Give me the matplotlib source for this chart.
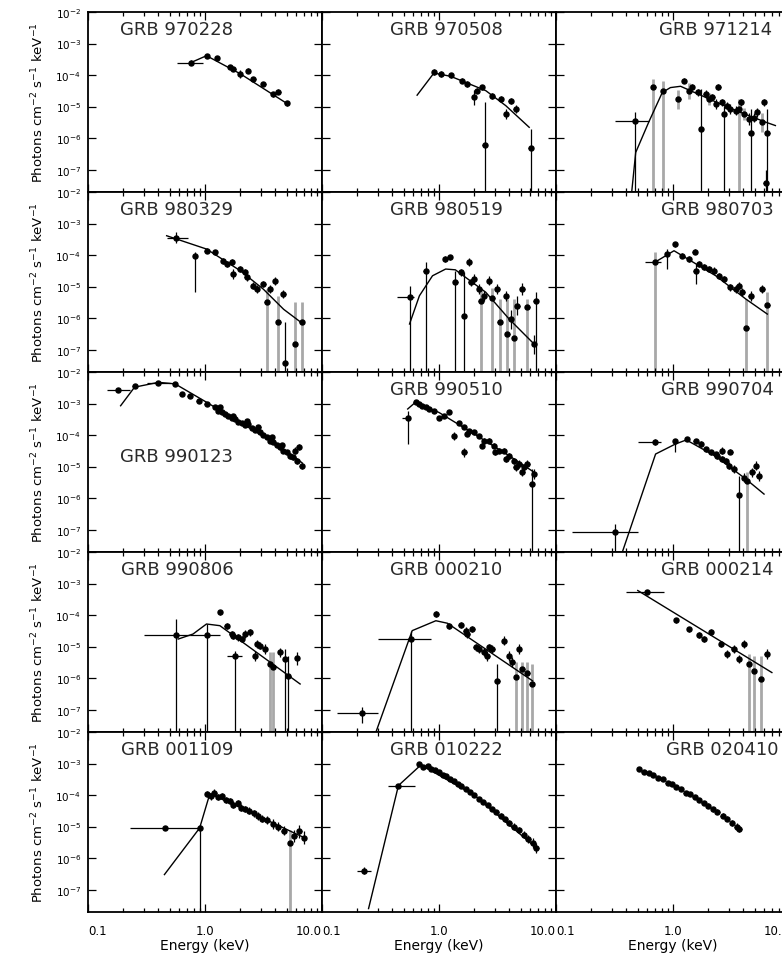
import numpy as np
import matplotlib
matplotlib.use("Agg")
import matplotlib.pyplot as plt
from matplotlib.ticker import LogLocator, NullFormatter, NullLocator

FLOOR = 1e-9  # lower end for error bars that run off the bottom of a panel

# ---------------- GRB 970228 ----------------
e_970228 = [0.755, 1.03, 1.26, 1.64, 1.75, 1.99, 2.34, 2.59, 3.15, 3.84, 4.24, 4.99]
f_970228 = [2.5e-4, 4.1e-4, 3.4e-4, 1.75e-4, 1.55e-4, 1.08e-4, 1.37e-4, 7.5e-5, 5.2e-5, 2.5e-5, 2.95e-5, 1.26e-5]
err_970228 = [0.08, 0.05, 0.05, 0.06, 0.06, 0.12, 0.08, 0.07, 0.07, 0.08, 0.08, 0.08]
lim_970228 = {}
bin_970228 = {0: (0.58, 0.96)}
gray_970228 = []
me_970228 = [0.76, 1.03, 2.0, 5.2]
mf_970228 = [2.5e-4, 4.1e-4, 1.1e-4, 1.15e-5]

# ---------------- GRB 970508 ----------------
e_970508 = [0.905, 1.03, 1.26, 1.58, 1.75, 1.99, 2.12, 2.34, 2.86, 3.37, 3.72, 4.1, 4.52, 2.45, 6.08]
f_970508 = [1.22e-4, 1.08e-4, 1.0e-4, 6.6e-5, 5.2e-5, 1.95e-5, 3.2e-5, 4.1e-5, 2.2e-5, 1.73e-5, 5.8e-6, 1.53e-5, 8.3e-6, 6.1e-7, 5.0e-7]
err_970508 = [0.1, 0.08, 0.08, 0.08, 0.08, 0.25, 0.08, 0.08, 0.1, 0.1, 0.15, 0.1, 0.12, 0, 0]
lim_970508 = {13: (FLOOR, 1.35e-5), 14: (FLOOR, 1.94e-6)}
bin_970508 = {}
gray_970508 = []
me_970508 = [0.65, 0.905, 1.26, 2.51, 3.72, 5.9]
mf_970508 = [2.3e-5, 1.16e-4, 9.1e-5, 3.2e-5, 1.07e-5, 2.2e-6]

# ---------------- GRB 971214 ----------------
e_971214 = [0.47, 0.68, 0.82, 1.11, 1.24, 1.37, 1.46, 1.62, 1.73, 1.9, 2.03, 2.17, 2.44, 2.32, 2.63,
            2.73, 2.91, 3.1, 3.43, 3.66, 3.78, 4.05, 4.47, 4.61, 4.92, 5.25, 5.8, 6.0, 6.4, 6.2]
f_971214 = [3.4e-6, 4.1e-5, 3.2e-5, 1.73e-5, 6.6e-5, 3.2e-5, 4.1e-5, 2.8e-5, 1.94e-6, 2.5e-5, 1.73e-5,
            1.95e-5, 4.1e-5, 1.2e-5, 1.35e-5, 5.8e-6, 1.07e-5, 8.3e-6, 7.4e-6, 8.3e-6, 1.35e-5, 5.8e-6,
            4.0e-6, 1.5e-6, 4.5e-6, 6.6e-6, 3.2e-6, 1.35e-5, 1.5e-6, 3.9e-8]
err_971214 = [0, 0, 0, 0.3, 0.08, 0.25, 0.1, 0.1, 0, 0.12, 0.2, 0.1, 0.1, 0.15, 0.12,
              0, 0.12, 0.15, 0.15, 0, 0.12, 0.2, 0.2, 0, 0.15, 0.15, 0.3, 0.12, 0, 0.4]
lim_971214 = {0: (FLOOR, 6.6e-6), 1: (FLOOR, 7.5e-5), 2: (FLOOR, 6.6e-5), 8: (FLOOR, 3.6e-5),
              15: (FLOOR, 1.07e-5), 19: (FLOOR, 1.73e-5), 23: (FLOOR, 8.3e-6), 28: (FLOOR, 8.3e-6)}
bin_971214 = {0: (0.32, 0.62)}
gray_971214 = [1, 2, 3, 5, 10, 19, 21, 26]
me_971214 = [0.444, 0.48, 0.62, 0.81, 0.95, 1.16, 2.0, 3.2, 6.2, 7.5]
mf_971214 = [2e-8, 3.5e-7, 3.2e-6, 2.8e-5, 4.0e-5, 4.4e-5, 1.8e-5, 8.3e-6, 3.2e-6, 2.5e-6]

# ---------------- GRB 980329 ----------------
e_980329 = [0.57, 0.82, 1.03, 1.22, 1.43, 1.53, 1.69, 1.75, 1.99, 2.2, 2.27, 2.59, 2.76, 3.15, 3.37,
            3.98, 4.24, 4.68, 4.83, 5.9, 6.7, 3.6]
f_980329 = [3.6e-4, 9.5e-5, 1.37e-4, 1.22e-4, 6.6e-5, 5.2e-5, 5.9e-5, 2.5e-5, 3.6e-5, 2.8e-5, 1.95e-5,
            1.07e-5, 8.3e-6, 1.2e-5, 3.2e-6, 1.53e-5, 7.3e-7, 5.8e-6, 3.9e-8, 1.5e-7, 7.3e-7, 8.3e-6]
err_980329 = [0.17, 0, 0.08, 0.08, 0.1, 0.1, 0.1, 0.15, 0.1, 0.1, 0.1, 0.12, 0.12, 0.1, 0,
              0.12, 0, 0.12, 0, 0, 0, 0.12]
lim_980329 = {1: (6.6e-6, 1.22e-4), 14: (FLOOR, 8.3e-6), 16: (FLOOR, 5.1e-6), 18: (FLOOR, 7.3e-7),
              19: (FLOOR, 3.2e-6), 20: (FLOOR, 3.2e-6)}
bin_980329 = {0: (0.47, 0.72)}
gray_980329 = [14, 16, 19, 20]
me_980329 = [0.47, 1.03, 2.0, 3.15, 4.7, 6.9]
mf_980329 = [4.1e-4, 1.55e-4, 3.2e-5, 8.3e-6, 1.9e-6, 6.5e-7]

# ---------------- GRB 980519 ----------------
e_980519 = [0.57, 0.77, 1.12, 1.23, 1.38, 1.53, 1.64, 1.8, 1.86, 2.0, 2.2, 2.27, 2.43, 2.67, 2.86,
            3.16, 3.3, 3.72, 3.84, 4.1, 4.37, 4.68, 5.15, 5.7, 6.5, 6.7]
f_980519 = [4.8e-6, 3.2e-5, 7.5e-5, 8.5e-5, 1.35e-5, 2.8e-5, 1.18e-6, 5.9e-5, 1.35e-5, 1.73e-5, 8.3e-6,
            3.5e-6, 5.1e-6, 1.53e-5, 4.5e-6, 8.3e-6, 7.3e-7, 5.1e-6, 3.1e-7, 9.3e-7, 2.4e-7, 2.5e-6,
            8.3e-6, 2.2e-6, 1.5e-7, 3.5e-6]
err_980519 = [0, 0, 0.1, 0.08, 0, 0.12, 0, 0.12, 0.12, 0.15, 0.15, 0, 0.15, 0.15, 0,
              0.15, 0, 0.15, 0, 0.3, 0, 0.3, 0.2, 0, 0.3, 0]
lim_980519 = {0: (FLOOR, 1.07e-5), 1: (FLOOR, 6.1e-5), 4: (FLOOR, 3.2e-5), 6: (FLOOR, 2.8e-5),
              11: (FLOOR, 8.3e-6), 14: (FLOOR, 9e-6), 16: (FLOOR, 4e-6), 18: (FLOOR, 4e-6),
              20: (FLOOR, 4e-6), 23: (FLOOR, 4e-6), 25: (FLOOR, 6.6e-6)}
bin_980519 = {0: (0.44, 0.61)}
gray_980519 = [11, 14, 16, 18, 20, 23]
me_980519 = [0.56, 0.68, 0.88, 1.14, 1.38, 2.51, 3.98, 6.5]
mf_980519 = [6.5e-7, 5.1e-6, 2.2e-5, 3.6e-5, 3.4e-5, 6.6e-6, 9.3e-7, 1.5e-7]

# ---------------- GRB 980703 ----------------
e_980703 = [0.70, 0.89, 1.04, 1.2, 1.37, 1.53, 1.56, 1.67, 1.84, 2.03, 2.24, 2.47, 2.73, 3.1, 3.43,
            3.66, 3.91, 4.24, 4.6, 5.8, 6.4]
f_980703 = [5.9e-5, 1.08e-4, 2.2e-4, 9.5e-5, 7.5e-5, 1.27e-4, 3.2e-5, 5.2e-5, 4.1e-5, 3.6e-5, 3.2e-5,
            2.2e-5, 1.73e-5, 9.4e-6, 8.3e-6, 1.07e-5, 6.6e-6, 4.7e-7, 5.1e-6, 8.3e-6, 2.6e-6]
err_980703 = [0, 0, 0.08, 0.08, 0.1, 0.08, 0, 0.1, 0.1, 0.1, 0.1, 0.1, 0.1, 0.12, 0.12,
              0.12, 0.12, 0, 0.15, 0.12, 0]
lim_980703 = {0: (FLOOR, 1.22e-4), 1: (3.6e-5, 1.5e-4), 6: (1.2e-5, 5.2e-5), 17: (FLOOR, 4e-6),
              20: (FLOOR, 6.6e-6)}
bin_980703 = {0: (0.58, 0.79)}
gray_980703 = [0, 17, 20]
me_980703 = [0.70, 1.02, 2.32, 4.2, 6.4]
mf_980703 = [5.9e-5, 1.37e-4, 2.2e-5, 4e-6, 1.34e-6]

# ---------------- GRB 990123 ----------------
e_990123 = [0.18, 0.25, 0.40, 0.555, 0.63, 0.74, 0.88, 1.03, 1.22, 1.3, 1.34, 1.39, 1.48, 1.58, 1.69,
            1.75, 1.8, 1.93, 2.06, 2.2, 2.27, 2.34, 2.51, 2.67, 2.86, 2.95, 3.15, 3.37, 3.6, 3.72,
            3.84, 4.1, 4.37, 4.52, 4.68, 4.99, 5.3, 5.7, 5.9, 6.1, 6.3, 6.7]
f_990123 = [2.6e-3, 3.7e-3, 4.5e-3, 4.2e-3, 2.0e-3, 1.78e-3, 1.23e-3, 9.6e-4, 7.6e-4, 5.9e-4, 7.6e-4,
            5.2e-4, 4.6e-4, 4.1e-4, 3.4e-4, 4.1e-4, 3.2e-4, 2.6e-4, 2.5e-4, 2.1e-4, 2.8e-4, 2.2e-4,
            1.63e-4, 1.48e-4, 1.75e-4, 1.22e-4, 1.0e-4, 8.5e-5, 6.6e-5, 8.5e-5, 5.9e-5, 4.8e-5,
            4.1e-5, 4.8e-5, 3.2e-5, 2.8e-5, 2.2e-5, 1.95e-5, 3.2e-5, 1.53e-5, 4.1e-5, 1.07e-5]
err_990123 = [0.05, 0.04, 0.04, 0.04, 0.05, 0.05, 0.05, 0.05, 0.05, 0.05, 0.05, 0.05, 0.05, 0.05, 0.05,
              0.05, 0.05, 0.05, 0.05, 0.06, 0.06, 0.06, 0.06, 0.06, 0.06, 0.06, 0.06, 0.07, 0.07, 0.07,
              0.07, 0.07, 0.08, 0.08, 0.08, 0.08, 0.09, 0.09, 0.1, 0.1, 0.1, 0.12]
lim_990123 = {}
bin_990123 = {0: (0.145, 0.23), 2: (0.32, 0.50)}
gray_990123 = []
me_990123 = [0.19, 0.25, 0.40, 0.555, 1.03, 2.0, 3.84, 6.7]
mf_990123 = [8.5e-4, 3.3e-3, 4.7e-3, 4.2e-3, 1.1e-3, 2.5e-4, 5.9e-5, 1.35e-5]

# ---------------- GRB 990510 ----------------
e_990510 = [0.54, 0.63, 0.675, 0.72, 0.77, 0.82, 0.905, 1.0, 1.1, 1.22, 1.34, 1.48, 1.64, 1.65, 1.75,
            1.8, 2.0, 2.2, 2.34, 2.43, 2.67, 2.95, 3.04, 3.26, 3.6, 3.72, 3.98, 4.37, 4.52, 4.83,
            5.15, 5.3, 5.7, 6.5, 6.2]
f_990510 = [3.6e-4, 1.1e-3, 9.6e-4, 8.5e-4, 7.6e-4, 6.7e-4, 5.9e-4, 3.6e-4, 4.1e-4, 5.2e-4, 9.5e-5,
            2.5e-4, 1.75e-4, 2.8e-5, 1.08e-4, 1.37e-4, 1.22e-4, 9.5e-5, 4.6e-5, 6.6e-5, 6.6e-5,
            4.6e-5, 2.8e-5, 3.2e-5, 3.2e-5, 1.73e-5, 2.2e-5, 1.53e-5, 9.4e-6, 1.2e-5, 6.6e-6,
            9.4e-6, 1.2e-5, 5.8e-6, 2.8e-6]
err_990510 = [0, 0.05, 0.05, 0.05, 0.05, 0.05, 0.05, 0.06, 0.06, 0.06, 0.12, 0.06, 0.06, 0.15, 0.07,
              0.07, 0.07, 0.07, 0.08, 0.08, 0.08, 0.08, 0.09, 0.09, 0.09, 0.1, 0.1, 0.1, 0.12, 0.12,
              0.12, 0.12, 0.12, 0.15, 0]
lim_990510 = {0: (5.2e-5, 5.9e-4), 34: (FLOOR, 8.3e-6)}
bin_990510 = {0: (0.485, 0.57)}
gray_990510 = []
me_990510 = [0.54, 0.63, 1.0, 2.0, 3.98, 6.5]
mf_990510 = [6.7e-4, 1.1e-3, 5.2e-4, 1.08e-4, 2.2e-5, 6.6e-6]

# ---------------- GRB 990704 ----------------
e_990704 = [0.32, 0.70, 1.04, 1.32, 1.56, 1.73, 1.9, 2.1, 2.32, 2.63, 3.1, 2.63, 3.0, 3.3, 3.66,
            4.05, 4.3, 4.76, 5.1, 5.4, 2.4, 2.82]
f_990704 = [8.7e-8, 5.9e-5, 6.6e-5, 7.5e-5, 6.6e-5, 5.2e-5, 3.6e-5, 2.8e-5, 2.5e-5, 3.2e-5, 3.0e-5,
            1.73e-5, 1.07e-5, 8.3e-6, 1.26e-6, 4.5e-6, 3.5e-6, 6.6e-6, 1.07e-5, 5.1e-6, 2.1e-5, 1.53e-5]
err_990704 = [0, 0.1, 0, 0.06, 0.06, 0.08, 0.08, 0.08, 0.08, 0.1, 0.08, 0.1, 0.1, 0.12, 0,
              0.15, 0, 0.15, 0.15, 0.15, 0.08, 0.1]
lim_990704 = {0: (FLOOR, 1.5e-7), 2: (2.8e-5, 7.5e-5), 14: (FLOOR, 5.1e-6), 16: (FLOOR, 6.6e-6)}
bin_990704 = {0: (0.138, 0.50), 1: (0.50, 0.79)}
gray_990704 = [16]
me_990704 = [0.37, 0.71, 1.05, 1.3, 2.32, 4.2, 6.0]
mf_990704 = [2e-8, 2.5e-5, 5.2e-5, 7e-5, 2.1e-5, 4e-6, 1.34e-6]

# ---------------- GRB 990806 ----------------
e_990806 = [0.57, 1.03, 1.34, 1.53, 1.69, 1.8, 1.93, 2.2, 2.43, 2.77, 2.67, 3.26, 3.6, 3.84, 4.37,
            4.83, 5.15, 6.1, 1.75, 2.06, 2.95]
f_990806 = [2.3e-5, 2.3e-5, 1.22e-4, 4.6e-5, 2.5e-5, 5.1e-6, 1.95e-5, 2.5e-5, 2.8e-5, 1.2e-5, 5.1e-6,
            8.3e-6, 2.8e-6, 2.2e-6, 6.6e-6, 4e-6, 1.18e-6, 4.2e-6, 2.2e-5, 1.73e-5, 1.07e-5]
err_990806 = [0, 0, 0.08, 0.1, 0.1, 0, 0.1, 0.12, 0.12, 0.12, 0.15, 0.15, 0, 0, 0.15,
              0, 0, 0.2, 0.1, 0.1, 0.12]
lim_990806 = {0: (FLOOR, 7.5e-5), 1: (FLOOR, 5.2e-5), 5: (FLOOR, 7.4e-6), 12: (FLOOR, 6.6e-6),
              13: (FLOOR, 6.6e-6), 15: (FLOOR, 8.3e-6), 16: (FLOOR, 5.1e-6)}
bin_990806 = {0: (0.30, 0.74), 1: (0.74, 1.34), 5: (1.53, 2.06)}
gray_990806 = [12, 13]
me_990806 = [0.59, 0.79, 1.03, 1.34, 6.5]
mf_990806 = [1.73e-5, 2.5e-5, 5.2e-5, 4.6e-5, 6.5e-7]

# ---------------- GRB 000210 ----------------
e_000210 = [0.22, 0.58, 0.95, 1.22, 1.53, 1.69, 1.93, 2.06, 2.2, 2.43, 2.67, 2.86, 3.16, 3.6, 3.98,
            4.24, 4.57, 4.83, 5.15, 5.7, 6.2, 1.75, 2.59]
f_000210 = [8.1e-8, 1.73e-5, 1.08e-4, 4.6e-5, 4.8e-5, 3.2e-5, 3.6e-5, 9.4e-6, 8.3e-6, 6.6e-6, 9.4e-6,
            8.3e-6, 8.2e-7, 1.53e-5, 5.1e-6, 3.2e-6, 1.05e-6, 8.3e-6, 1.94e-6, 1.5e-6, 6.5e-7,
            2.5e-5, 5.1e-6]
err_000210 = [0, 0, 0.08, 0.1, 0.1, 0.1, 0.1, 0.12, 0.12, 0.12, 0.12, 0.12, 0, 0.15, 0.15,
              0.15, 0, 0.15, 0, 0, 0, 0.12, 0.15]
lim_000210 = {0: (3.9e-8, 1.17e-7), 1: (FLOOR, 3.2e-5), 12: (FLOOR, 2.8e-6), 16: (FLOOR, 3.2e-6),
              18: (FLOOR, 3.2e-6), 19: (FLOOR, 3.2e-6), 20: (FLOOR, 2.8e-6)}
bin_000210 = {0: (0.135, 0.30), 1: (0.30, 0.85)}
gray_000210 = [16, 18, 19, 20]
me_000210 = [0.29, 0.59, 0.94, 1.18, 6.3]
mf_000210 = [2e-8, 3.2e-5, 6.6e-5, 5.5e-5, 8.2e-7]

# ---------------- GRB 000214 ----------------
e_000214 = [0.60, 1.06, 1.37, 1.67, 2.11, 1.84, 2.57, 3.3, 4.05, 4.47, 4.9, 5.6, 6.3, 2.9, 3.66]
f_000214 = [5.4e-4, 6.9e-5, 3.6e-5, 2.3e-5, 2.9e-5, 1.73e-5, 1.2e-5, 8.3e-6, 1.2e-5, 2.8e-6, 1.7e-6,
            9.3e-7, 5.8e-6, 5.8e-6, 4e-6]
err_000214 = [0.05, 0.08, 0.08, 0.1, 0.1, 0.1, 0.1, 0.12, 0.12, 0, 0, 0, 0.15, 0.12, 0.12]
lim_000214 = {9: (FLOOR, 6e-6), 10: (FLOOR, 5e-6), 11: (FLOOR, 5e-6)}
bin_000214 = {0: (0.40, 0.84)}
gray_000214 = [9, 10, 11]
me_000214 = [0.5, 7.0]
mf_000214 = [6e-4, 1.5e-6]

# ---------------- GRB 001109 ----------------
e_001109 = [0.455, 0.9, 1.05, 1.12, 1.2, 1.3, 1.4, 1.5, 1.62, 1.75, 1.9, 2.05, 2.2, 2.4, 2.6,
            2.85, 3.1, 3.4, 3.8, 4.2, 4.7, 5.3, 5.8, 6.4, 7.0]
f_001109 = [9.0e-6, 9.0e-6, 1.1e-4, 9.0e-5, 1.2e-4, 8.5e-5, 9.5e-5, 7.0e-5, 6.5e-5, 5.0e-5, 5.5e-5,
            4.0e-5, 3.6e-5, 3.2e-5, 2.6e-5, 2.2e-5, 1.8e-5, 1.6e-5, 1.2e-5, 1.0e-5, 7.5e-6, 3.0e-6,
            5.0e-6, 7.0e-6, 4.5e-6]
err_001109 = [0.06, 0, 0.1, 0.1, 0.1, 0.1, 0.1, 0.1, 0.1, 0.1, 0.1, 0.1, 0.1, 0.12, 0.12,
              0.12, 0.12, 0.12, 0.15, 0.15, 0.15, 0, 0.2, 0.2, 0.2]
lim_001109 = {1: (FLOOR, 1.1e-5), 21: (FLOOR, 8e-6)}
bin_001109 = {0: (0.23, 0.9)}
gray_001109 = [21]
me_001109 = [0.45, 0.9, 1.1, 2.0, 7.0]
mf_001109 = [3.0e-7, 9.0e-6, 1.1e-4, 4.0e-5, 4.5e-6]

# ---------------- GRB 010222 ----------------
e_010222 = [0.23, 0.45, 0.68, 0.73, 0.8, 0.86, 0.92, 1.0, 1.08, 1.15, 1.25, 1.35, 1.45, 1.55, 1.7,
            1.85, 2.0, 2.2, 2.4, 2.6, 2.85, 3.1, 3.4, 3.7, 4.0, 4.4, 4.8, 5.3, 5.8, 6.3, 6.8]
f_010222 = [4.0e-7, 2.0e-4, 9.5e-4, 8.0e-4, 8.4e-4, 6.8e-4, 6.2e-4, 5.3e-4, 4.4e-4, 4.0e-4, 3.2e-4,
            2.8e-4, 2.3e-4, 2.0e-4, 1.55e-4, 1.25e-4, 1.0e-4, 7.6e-5, 6.2e-5, 4.8e-5, 3.6e-5, 2.9e-5,
            2.2e-5, 1.7e-5, 1.3e-5, 1.0e-5, 7.6e-6, 5.6e-6, 4.1e-6, 3.0e-6, 2.1e-6]
err_010222 = [0.1, 0.06, 0.05, 0.05, 0.05, 0.05, 0.05, 0.05, 0.05, 0.05, 0.05, 0.05, 0.05, 0.05, 0.05,
              0.05, 0.06, 0.06, 0.06, 0.06, 0.07, 0.07, 0.08, 0.08, 0.09, 0.1, 0.1, 0.12, 0.12, 0.15, 0.15]
lim_010222 = {}
bin_010222 = {0: (0.2, 0.26), 1: (0.37, 0.62)}
gray_010222 = []
me_010222 = [0.25, 0.45, 0.7, 2.0, 7.0]
mf_010222 = [2.5e-8, 2.0e-4, 9.0e-4, 1.0e-4, 1.9e-6]

# ---------------- GRB 020410 ----------------
e_020410 = [0.51, 0.56, 0.62, 0.68, 0.75, 0.82, 0.9, 0.98, 1.07, 1.17, 1.28, 1.4, 1.53, 1.67, 1.83,
            2.0, 2.2, 2.4, 2.65, 2.9, 3.2, 3.5, 3.7]
f_020410 = [6.7e-4, 5.5e-4, 5.0e-4, 4.2e-4, 3.5e-4, 3.2e-4, 2.5e-4, 2.2e-4, 1.8e-4, 1.5e-4, 1.2e-4,
            1.05e-4, 8.5e-5, 7.0e-5, 5.5e-5, 4.6e-5, 3.6e-5, 3.0e-5, 2.2e-5, 1.8e-5, 1.3e-5, 1.0e-5, 8.3e-6]
err_020410 = [0.06, 0.06, 0.06, 0.06, 0.06, 0.06, 0.06, 0.06, 0.06, 0.06, 0.06, 0.06, 0.07, 0.07, 0.07,
              0.07, 0.08, 0.08, 0.08, 0.09, 0.1, 0.1, 0.1]
lim_020410 = {}
bin_020410 = {}
gray_020410 = []
me_020410 = []
mf_020410 = []

PANELS = [
    ("GRB 970228", e_970228, f_970228, err_970228, lim_970228, bin_970228, gray_970228, me_970228, mf_970228, (0.38, 0.905)),
    ("GRB 970508", e_970508, f_970508, err_970508, lim_970508, bin_970508, gray_970508, me_970508, mf_970508, (0.53, 0.905)),
    ("GRB 971214", e_971214, f_971214, err_971214, lim_971214, bin_971214, gray_971214, me_971214, mf_971214, (0.68, 0.905)),
    ("GRB 980329", e_980329, f_980329, err_980329, lim_980329, bin_980329, gray_980329, me_980329, mf_980329, (0.38, 0.905)),
    ("GRB 980519", e_980519, f_980519, err_980519, lim_980519, bin_980519, gray_980519, me_980519, mf_980519, (0.53, 0.905)),
    ("GRB 980703", e_980703, f_980703, err_980703, lim_980703, bin_980703, gray_980703, me_980703, mf_980703, (0.69, 0.905)),
    ("GRB 990123", e_990123, f_990123, err_990123, lim_990123, bin_990123, gray_990123, me_990123, mf_990123, (0.38, 0.533)),
    ("GRB 990510", e_990510, f_990510, err_990510, lim_990510, bin_990510, gray_990510, me_990510, mf_990510, (0.53, 0.905)),
    ("GRB 990704", e_990704, f_990704, err_990704, lim_990704, bin_990704, gray_990704, me_990704, mf_990704, (0.69, 0.905)),
    ("GRB 990806", e_990806, f_990806, err_990806, lim_990806, bin_990806, gray_990806, me_990806, mf_990806, (0.38, 0.905)),
    ("GRB 000210", e_000210, f_000210, err_000210, lim_000210, bin_000210, gray_000210, me_000210, mf_000210, (0.53, 0.905)),
    ("GRB 000214", e_000214, f_000214, err_000214, lim_000214, bin_000214, gray_000214, me_000214, mf_000214, (0.69, 0.905)),
    ("GRB 001109", e_001109, f_001109, err_001109, lim_001109, bin_001109, gray_001109, me_001109, mf_001109, (0.38, 0.905)),
    ("GRB 010222", e_010222, f_010222, err_010222, lim_010222, bin_010222, gray_010222, me_010222, mf_010222, (0.53, 0.905)),
    ("GRB 020410", e_020410, f_020410, err_020410, lim_020410, bin_020410, gray_020410, me_020410, mf_020410, (0.71, 0.905)),
]

Y_TICKS = [1e-2, 1e-3, 1e-4, 1e-5, 1e-6, 1e-7]
Y_TICK_LABELS = ["$10^{-2}$", "$10^{-3}$", "$10^{-4}$", "$10^{-5}$", "$10^{-6}$", "$10^{-7}$"]
X_TICKS = [0.1, 1.0, 10.0]
X_TICK_LABELS = ["0.1", "1.0", "10.0"]
XLIM = (0.1, 10.0)
YLIM = (1.95e-8, 1e-2)
NARROW_BIN = 1.045      # half-width factor of the short energy bars
GRAY = "#a8a8a8"


def draw_spectrum(ax, e, f, err, lims, bins, gray, me, mf):
    e = np.asarray(e, float)
    f = np.asarray(f, float)
    err = np.asarray(err, float)
    lo = f / 10 ** err
    hi = f * 10 ** err
    for i, (a, b) in lims.items():
        lo[i], hi[i] = a, b
    elo = e / NARROW_BIN
    ehi = e * NARROW_BIN
    for i, (a, b) in bins.items():
        elo[i], ehi[i] = a, b
    dark = [i for i in range(len(e)) if i not in gray]
    if gray:
        ax.vlines(e[gray], lo[gray], hi[gray], colors=GRAY, lw=2.0, zorder=1)
    ax.vlines(e[dark], lo[dark], hi[dark], colors="black", lw=0.9, zorder=2)
    ax.hlines(f, elo, ehi, colors="black", lw=0.9, zorder=2)
    ax.plot(e, f, "o", ms=3.6, color="black", mec="black", zorder=3)
    if len(me):
        ax.plot(me, mf, "-", color="black", lw=1.0, zorder=2)


W, H = 782, 954
X0, Y0, PW, PH = 88, 13, 234, 180

fig = plt.figure(figsize=(W / 100, H / 100), dpi=100)

for k, (name, e, f, err, lims, bins, gray, me, mf, lab) in enumerate(PANELS):
    r, c = divmod(k, 3)
    ax = fig.add_axes([(X0 + c * PW) / W, 1 - (Y0 + (r + 1) * PH) / H, PW / W, PH / H])
    ax.set_xscale("log")
    ax.set_yscale("log")
    draw_spectrum(ax, e, f, err, lims, bins, gray, me, mf)
    ax.set_xlim(*XLIM)
    ax.set_ylim(*YLIM)

    ax.set_yticks(Y_TICKS)
    ax.yaxis.set_minor_locator(NullLocator())
    if c == 0:
        ax.set_yticklabels(Y_TICK_LABELS, fontsize=7.5)
    else:
        ax.set_yticklabels([])

    ax.set_xticks(X_TICKS)
    ax.xaxis.set_minor_locator(LogLocator(base=10, subs=np.arange(2, 10)))
    ax.xaxis.set_minor_formatter(NullFormatter())
    if r == 4:
        ax.set_xticklabels(X_TICK_LABELS, fontsize=8.5)
        tl = ax.get_xticklabels()
        tl[0].set_ha("left")
        tl[-1].set_ha("right")
    else:
        ax.set_xticklabels([])

    ax.tick_params(which="both", direction="in", top=True, right=True, width=0.9)
    ax.tick_params(which="major", length=6)
    ax.tick_params(axis="y", which="major", pad=5)
    ax.tick_params(axis="x", which="major", pad=9)
    ax.tick_params(which="minor", length=3)
    for s in ax.spines.values():
        s.set_linewidth(1.3)

    ax.text(lab[0], lab[1], name, transform=ax.transAxes, ha="center", va="center",
            fontsize=13, color="#2a2a2a")

for r in range(5):
    yc = 1 - (Y0 + (r + 0.5) * PH) / H
    fig.text(38 / W, yc, "Photons cm$^{-2}$ s$^{-1}$ keV$^{-1}$", rotation=90,
             ha="center", va="center", fontsize=9.5)

for c in range(3):
    fig.text((X0 + PW / 2 + c * PW) / W, 1 - 946 / H, "Energy (keV)",
             ha="center", va="center", fontsize=10)

fig.savefig("out.png", dpi=100)
